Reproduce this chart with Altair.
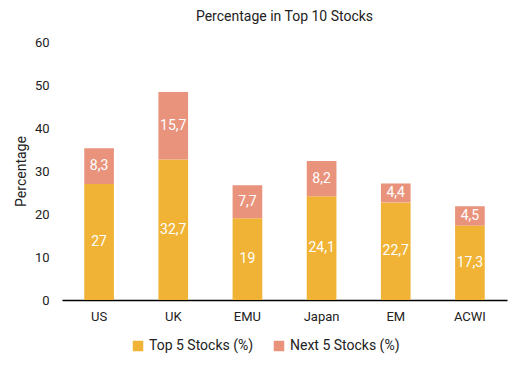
import altair as alt
import pandas as pd

regions = ["US", "UK", "EMU", "Japan", "EM", "ACWI"]
top5 = [27.0, 32.7, 19.0, 24.1, 22.7, 17.3]
next5 = [8.3, 15.7, 7.7, 8.2, 4.4, 4.5]
top5_labels = ["27", "32,7", "19", "24,1", "22,7", "17,3"]
next5_labels = ["8,3", "15,7", "7,7", "8,2", "4,4", "4,5"]
series = ["Top 5 Stocks (%)", "Next 5 Stocks (%)"]
colors = ["#F0B336", "#E9937D"]

rows = []
for i, r in enumerate(regions):
    rows.append({"region": r, "series": series[0], "value": top5[i], "label": top5_labels[i], "order": 0})
    rows.append({"region": r, "series": series[1], "value": next5[i], "label": next5_labels[i], "order": 1})
df = pd.DataFrame(rows)

FONT = "Roboto"

base = alt.Chart(df).encode(
    x=alt.X("region:N", sort=regions, title=None,
            scale=alt.Scale(paddingInner=0.6, paddingOuter=0.3),
            axis=alt.Axis(labelAngle=0, ticks=False, domainColor="#000000", domainWidth=1.5,
                          labelPadding=10, labelFontSize=13, labelColor="#222222", labelFont=FONT)),
)

bars = base.mark_bar().encode(
    y=alt.Y("value:Q", stack="zero", title="Percentage",
            scale=alt.Scale(domain=[0, 60]),
            axis=alt.Axis(values=[0, 10, 20, 30, 40, 50, 60], grid=False, domain=False, ticks=False,
                          labelPadding=13, labelFontSize=13, labelColor="#222222", labelFont=FONT,
                          titleFontSize=14, titleFont=FONT, titleFontWeight="normal",
                          titleColor="#222222", titlePadding=6)),
    color=alt.Color("series:N", sort=series, title=None,
                    scale=alt.Scale(domain=series, range=colors),
                    legend=alt.Legend(orient="none", legendX=69, legendY=297, direction="horizontal",
                                      symbolType="square", symbolSize=110, symbolStrokeWidth=0,
                                      labelFontSize=14, labelFont=FONT, labelColor="#222222",
                                      columnPadding=18)),
    order=alt.Order("order:Q"),
)

labels = base.mark_text(color="white", fontSize=14, font=FONT).encode(
    y=alt.Y("mid:Q"),
    text="label:N",
).transform_stack(
    stack="value", groupby=["region"], as_=["y0", "y1"], sort=[alt.SortField("order")]
).transform_calculate(mid="(datum.y0 + datum.y1) / 2")

chart = alt.layer(bars, labels).properties(
    width=445, height=258,
    title=alt.TitleParams("Percentage in Top 10 Stocks", fontSize=14, font=FONT,
                          fontWeight="normal", color="#222222", offset=12),
    autosize=alt.AutoSizeParams(type="none"),
    padding={"left": 54, "top": 34, "right": 5, "bottom": 57},
).configure_view(stroke=None)

chart.save("out.html", embed_options={"renderer": "svg", "actions": False})
